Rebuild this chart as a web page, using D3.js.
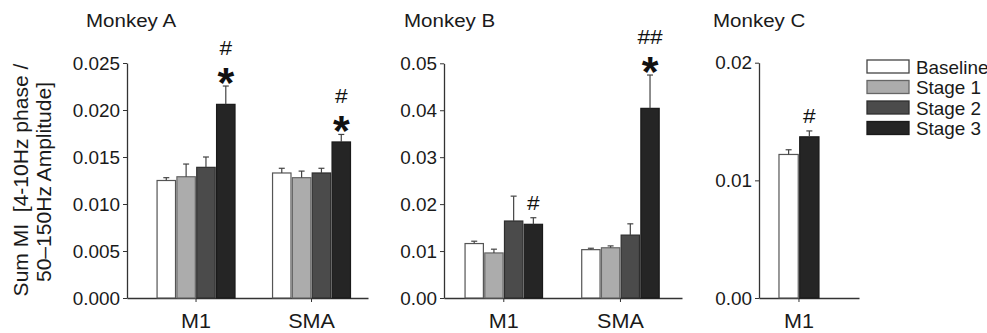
<!DOCTYPE html>
<html>
<head>
<meta charset="utf-8">
<script src="https://cdn.jsdelivr.net/npm/d3@7"></script>
<style>
    body { margin: 0; background: #fff; }
    svg { display: block; font-family: "Liberation Sans", Arial, sans-serif; }
</style>
</head>
<body>
<svg id="chart" width="987" height="333"></svg>
<script>
// ---- data ----
const stages = ["Baseline", "Stage 1", "Stage 2", "Stage 3"];
const stageFill = ["#ffffff", "#acacac", "#4b4b4b", "#252525"];
const stageStroke = ["#555555", "#666666", "#2e2e2e", "#1a1a1a"];

const regionsAB = ["M1", "SMA"];
const regionsC = ["M1"];
const stagesC = ["Baseline", "Stage 3"];

// Monkey A
const meanA_M1 = [0.0125, 0.0129, 0.0139, 0.0206];
const errA_M1 = [0.0003, 0.00135, 0.0011, 0.00195];
const meanA_SMA = [0.0133, 0.0128, 0.0133, 0.0166];
const errA_SMA = [0.0005, 0.0007, 0.0005, 0.0008];
// Monkey B
const meanB_M1 = [0.0116, 0.0096, 0.0164, 0.0157];
const errB_M1 = [0.0005, 0.0008, 0.0053, 0.0014];
const meanB_SMA = [0.0103, 0.0107, 0.0134, 0.0404];
const errB_SMA = [0.0003, 0.0004, 0.0024, 0.0071];
// Monkey C (only baseline and stage 3)
const meanC_M1 = [0.0122, 0.0137];
const errC_M1 = [0.0004, 0.0005];

const ticksA = [0, 0.005, 0.010, 0.015, 0.020, 0.025];
const ticksB = [0, 0.01, 0.02, 0.03, 0.04, 0.05];
const ticksC = [0, 0.01, 0.02];

// significance marks: [region, stage, star?, hashes]
const marksA = [["M1", "Stage 3", true, "#"], ["SMA", "Stage 3", true, "#"]];
const marksB = [["M1", "Stage 3", false, "#"], ["SMA", "Stage 3", true, "##"]];
const marksC = [["M1", "Stage 3", false, "#"]];

const yLabel = ["Sum MI \u00a0[4-10Hz phase /", "50\u2013150Hz Amplitude]"];

// ---- drawing ----
const SX = 1.08; // the source font is a little wider than Arial

function wideText(sel, x, y, rot) {
    sel.attr("x", 0).attr("y", 0)
        .attr("transform", `translate(${x},${y})${rot ? ` rotate(${rot})` : ""} scale(${SX},1)`);
    return sel;
}

class BarPanel {
    constructor(svg, cfg) {
        this.svg = svg;
        this.cfg = cfg;
    }

    draw() {
        const c = this.cfg;
        const g = this.svg.append("g");

        const y = d3.scaleLinear().domain(c.yDomain).range([c.y0, c.yTop]);
        const xg = d3.scaleBand().domain(c.regions).range([c.x0, c.x1])
            .paddingInner(c.padInner).paddingOuter(c.padOuter).align(c.align);
        const xs = d3.scaleBand().domain(c.stages).range([0, xg.bandwidth()]).paddingInner(0.07);

        // y axis
        const ya = g.append("g").attr("transform", `translate(${c.x0},0)`)
            .call(d3.axisLeft(y).tickValues(c.ticks).tickFormat(d3.format(c.fmt))
                .tickSize(4).tickSizeOuter(0))
            .attr("font-family", null).attr("font-size", null);
        ya.select(".domain").attr("stroke", "#333").attr("stroke-width", 1.3);
        ya.selectAll(".tick line").attr("stroke", "#333");
        ya.selectAll(".tick text").each(function () {
            const t = d3.select(this);
            t.attr("dy", "0.35em").attr("fill", "#1a1a1a").style("font-size", "17.5px");
            wideText(t, -7, 0);
        });

        // x axis
        const xa = g.append("g").attr("transform", `translate(0,${c.y0})`)
            .call(d3.axisBottom(xg).tickSize(4).tickSizeOuter(0))
            .attr("font-family", null).attr("font-size", null);
        xa.select(".domain").attr("stroke", "#333").attr("stroke-width", 1.3);
        xa.selectAll(".tick line").attr("stroke", "#333");
        xa.selectAll(".tick text").each(function () {
            const t = d3.select(this);
            t.attr("dy", "0.71em").attr("fill", "#1a1a1a").style("font-size", "20px");
            wideText(t, 0, 16);
        });

        // bars
        const rows = [];
        c.regions.forEach((r, ri) => {
            c.stages.forEach((s, si) => {
                rows.push({ region: r, stage: s, mean: c.means[ri][si], err: c.errs[ri][si] });
            });
        });
        const colorIdx = s => stages.indexOf(s);

        const bars = g.append("g");
        bars.selectAll("rect").data(rows).join("rect")
            .attr("x", d => xg(d.region) + xs(d.stage))
            .attr("y", d => y(d.mean))
            .attr("width", xs.bandwidth())
            .attr("height", d => y(0) - y(d.mean))
            .attr("fill", d => stageFill[colorIdx(d.stage)])
            .attr("stroke", d => stageStroke[colorIdx(d.stage)])
            .attr("stroke-width", 1.2);

        // error bars (upper only)
        const eb = g.append("g").attr("stroke", "#444").attr("stroke-width", 1.2);
        const cx = d => xg(d.region) + xs(d.stage) + xs.bandwidth() / 2;
        eb.selectAll("line.v").data(rows).join("line").attr("class", "v")
            .attr("x1", cx).attr("x2", cx)
            .attr("y1", d => y(d.mean)).attr("y2", d => y(d.mean + d.err));
        eb.selectAll("line.cap").data(rows).join("line").attr("class", "cap")
            .attr("x1", d => cx(d) - 3).attr("x2", d => cx(d) + 3)
            .attr("y1", d => y(d.mean + d.err)).attr("y2", d => y(d.mean + d.err));

        // significance marks
        c.marks.forEach(([region, stage, star, hash]) => {
            const d = rows.find(r => r.region === region && r.stage === stage);
            const x = cx(d);
            let top = y(d.mean + d.err) - 6;
            if (star) {
                g.append("text").text("*")
                    .attr("x", x).attr("y", top + 17)
                    .attr("text-anchor", "middle")
                    .style("font-size", "43px").style("font-weight", "bold")
                    .attr("fill", "#111");
                top = top - 17 - 8;
            } else {
                top = top - 2;
            }
            wideText(g.append("text").text(hash), x, top)
                .attr("text-anchor", "middle")
                .style("font-size", "21px").attr("fill", "#111");
        });

        // title
        wideText(g.append("text").text(c.title), c.titleX, 27)
            .style("font-size", "19px").attr("fill", "#1a1a1a");
    }
}

const svg = d3.select("#chart");

new BarPanel(svg, {
    title: "Monkey A", titleX: 86,
    regions: regionsAB, stages: stages,
    means: [meanA_M1, meanA_SMA], errs: [errA_M1, errA_SMA],
    yDomain: [0, 0.025], ticks: ticksA, fmt: ".3f",
    x0: 127, x1: 368, y0: 298, yTop: 63,
    padInner: 0.325, padOuter: 0.206, align: 0.632,
    marks: marksA
}).draw();

new BarPanel(svg, {
    title: "Monkey B", titleX: 404,
    regions: regionsAB, stages: stages,
    means: [meanB_M1, meanB_SMA], errs: [errB_M1, errB_SMA],
    yDomain: [0, 0.05], ticks: ticksB, fmt: ".2f",
    x0: 444, x1: 682, y0: 298, yTop: 63.3,
    padInner: 0.336, padOuter: 0.188, align: 0.48,
    marks: marksB
}).draw();

new BarPanel(svg, {
    title: "Monkey C", titleX: 713,
    regions: regionsC, stages: stagesC,
    means: [meanC_M1], errs: [errC_M1],
    yDomain: [0, 0.02], ticks: ticksC, fmt: ".2f",
    x0: 759, x1: 859, y0: 298, yTop: 62.7,
    padInner: 0, padOuter: 0.75, align: 0.333,
    marks: marksC
}).draw();

// shared y label
const yl = svg.append("g");
wideText(yl.append("text").text(yLabel[0]), 28, 180, -90)
    .attr("text-anchor", "middle").style("font-size", "19.5px").attr("fill", "#1a1a1a");
wideText(yl.append("text").text(yLabel[1]), 51, 182, -90)
    .attr("text-anchor", "middle").style("font-size", "19.5px").attr("fill", "#1a1a1a");

// legend
const legend = svg.append("g").attr("transform", "translate(867,60)");
const lg = legend.selectAll("g").data(stages).join("g")
    .attr("transform", (d, i) => `translate(0,${i * 20.5})`);
lg.append("rect")
    .attr("width", 42).attr("height", 13)
    .attr("fill", (d, i) => stageFill[i])
    .attr("stroke", (d, i) => i === 0 ? "#444" : stageStroke[i])
    .attr("stroke-width", 1.3);
lg.append("text").text(d => d).each(function () {
    wideText(d3.select(this), 49, 13.5);
}).style("font-size", "17.5px").attr("fill", "#1a1a1a");
</script>
</body>
</html>
